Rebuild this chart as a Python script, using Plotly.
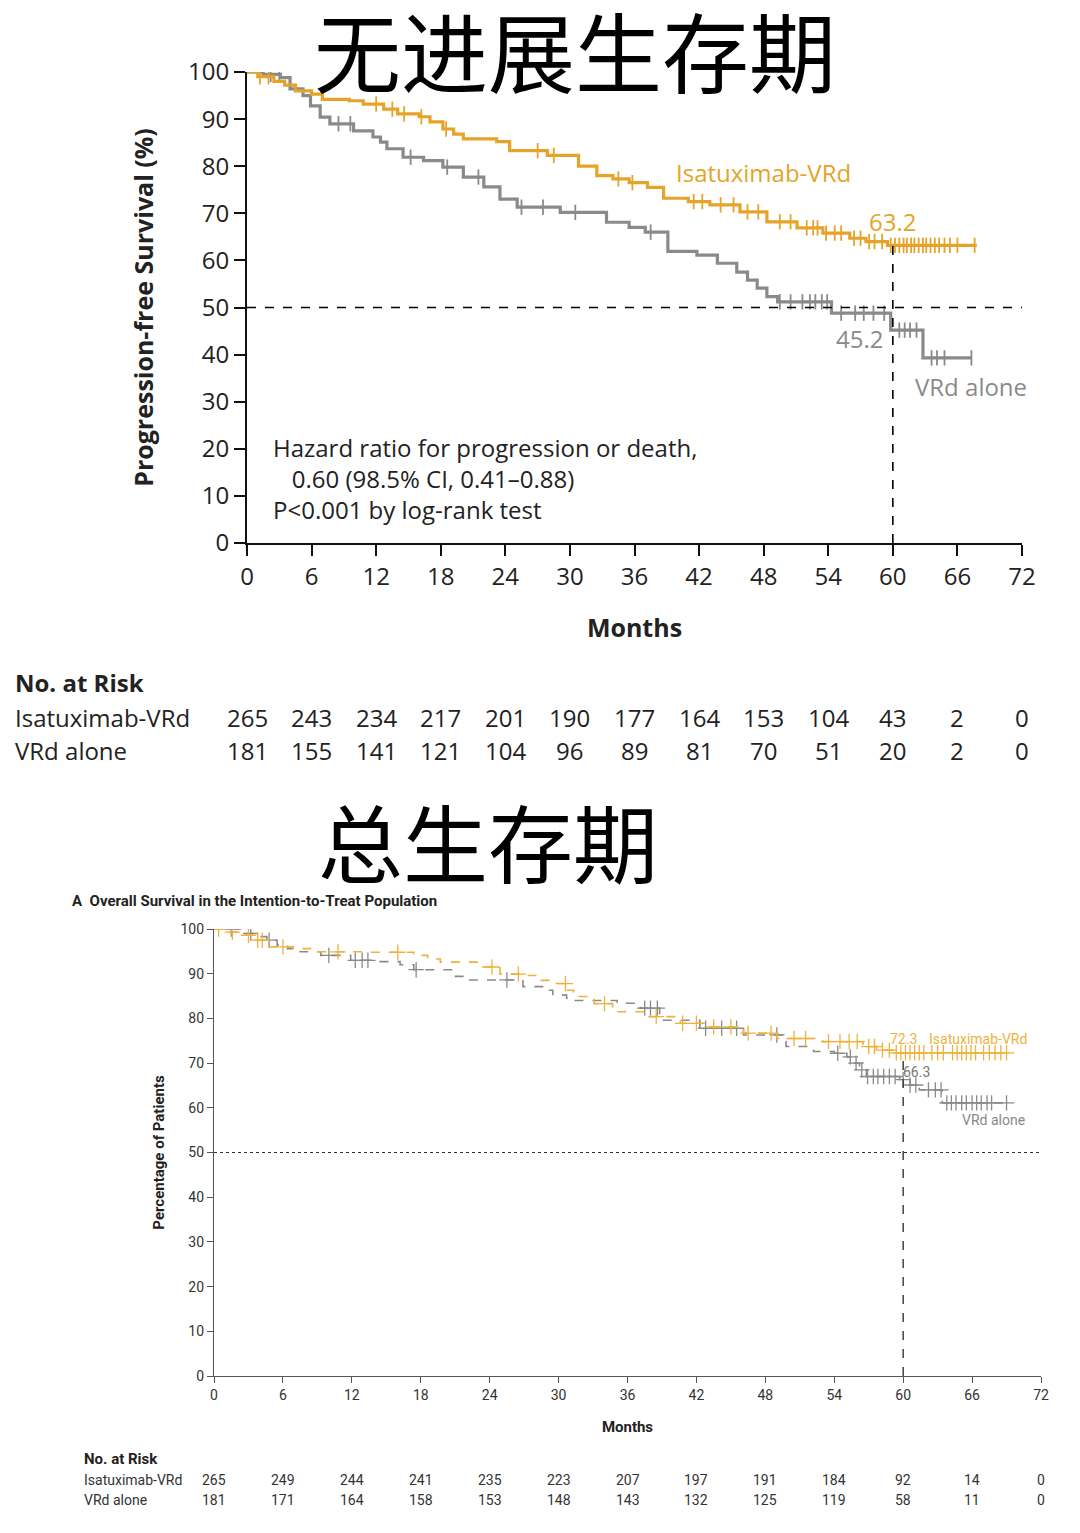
import numpy as np
import plotly.graph_objects as go

# ---------------- data ----------------
months = list(range(0, 73, 6))

# progression-free survival (step points: time, % event-free)
pfs_isa_t = [0, 1.0, 2.5, 3.5, 4.5, 6.0, 7.0, 9.5, 10.8, 12.7, 14.0, 16.0, 17.0, 18.2, 19.2, 20.1,
             23.2, 24.4, 27.9, 30.8, 32.5, 34.0, 35.5, 37.2, 38.7, 41.0, 43.0, 45.8, 48.3, 51.1,
             53.5, 56.0, 57.5, 59.5, 67.8]
pfs_isa_s = [100, 99.0, 98.0, 97.2, 96.0, 95.3, 94.2, 93.9, 93.2, 92.1, 91.1, 90.5, 89.4, 87.9, 86.8, 85.8,
             85.2, 83.3, 82.3, 80.0, 78.0, 77.3, 76.5, 75.5, 73.2, 72.5, 71.8, 70.3, 68.2, 66.9,
             65.8, 64.7, 64.0, 63.2, 63.2]
pfs_vrd_t = [0, 1.5, 3.1, 4.0, 5.2, 5.9, 6.8, 7.7, 9.9, 11.7, 12.4, 13.0, 14.5, 16.4, 18.2, 20.1, 22.0,
             23.5, 25.1, 29.1, 33.4, 35.5, 37.0, 39.1, 41.8, 43.7, 45.5, 46.5, 47.4, 48.3, 49.3,
             54.3, 59.8, 62.8, 67.3]
pfs_vrd_s = [100, 99.5, 98.8, 96.4, 95.0, 92.8, 90.4, 89.0, 87.5, 86.2, 85.1, 83.7, 81.9, 81.2, 79.8, 77.7, 75.6,
             73.0, 71.3, 70.2, 68.1, 67.0, 66.0, 61.9, 61.1, 59.4, 57.5, 55.8, 54.1, 52.3, 51.2,
             48.8, 45.2, 39.3, 39.3]
pfs_isa_cens = [1.2, 2.0, 12.0, 13.5, 14.6, 16.2, 18.5, 27.0, 28.5, 34.5, 35.8, 41.5, 42.3, 44.0, 45.2,
                46.5, 47.5, 49.5, 50.5, 52.0, 52.6, 53.0, 53.8, 54.6, 55.2, 56.4, 57.0, 57.8, 58.3,
                59.0, 59.8, 60.2, 60.6, 61.0, 61.3, 61.7, 62.0, 62.4, 62.8, 63.1, 63.5, 63.9, 64.3,
                64.8, 65.3, 66.0, 67.6]
pfs_vrd_cens = [2.2, 3.0, 8.5, 9.6, 15.2, 18.6, 21.5, 25.5, 27.5, 30.5, 37.5, 49.5, 50.5, 51.6, 52.3,
                52.8, 53.4, 53.9, 55.2, 56.5, 57.3, 58.2, 59.2, 60.6, 61.1, 61.6, 62.2, 63.6, 64.1,
                64.8, 67.3]
pfs_isa_label, pfs_vrd_label = "63.2", "45.2"
pfs_isa_risk = [265, 243, 234, 217, 201, 190, 177, 164, 153, 104, 43, 2, 0]
pfs_vrd_risk = [181, 155, 141, 121, 104, 96, 89, 81, 70, 51, 20, 2, 0]

# overall survival
os_isa_t = [0, 1.0, 2.3, 3.5, 4.6, 6.9, 8.4, 13.5, 17.4, 18.6, 19.7, 23.2, 24.9, 26.9, 28.4, 29.5,
            30.7, 31.3, 33.1, 34.7, 37.9, 40.6, 42.9, 46.1, 49.0, 53.0, 56.5, 57.7, 59.1, 69.0]
os_isa_s = [100, 99.3, 98.6, 97.5, 96.0, 95.6, 94.9, 94.8, 94.1, 93.3, 92.6, 91.5, 89.9, 89.6, 88.5, 87.8,
            86.3, 84.9, 83.3, 81.5, 80.4, 78.9, 78.1, 76.7, 75.5, 74.8, 73.7, 72.9, 72.3, 72.3]
os_vrd_t = [0, 2.6, 3.7, 4.6, 5.5, 6.4, 7.5, 9.3, 11.9, 13.9, 16.2, 17.4, 20.9, 22.0, 26.9, 28.7, 29.5,
            30.7, 31.3, 35.1, 37.1, 38.8, 42.3, 46.1, 49.8, 52.2, 54.0, 55.1, 55.6, 56.2, 56.8,
            59.7, 60.6, 61.4, 63.4, 69.0]
os_vrd_s = [100, 99.0, 98.3, 97.5, 96.4, 95.6, 94.9, 94.1, 93.0, 92.7, 92.0, 90.9, 89.4, 88.6, 87.1, 86.3, 85.2,
            84.5, 84.0, 83.4, 82.3, 79.6, 77.8, 76.3, 73.7, 72.6, 72.2, 71.4, 70.0, 68.5, 67.0,
            66.3, 65.1, 64.0, 61.1, 61.1]
os_isa_cens = [0.4, 1.6, 3.0, 3.8, 4.2, 6.0, 10.8, 16.0, 24.2, 26.5, 30.6, 34.0, 38.5, 40.8, 42.0,
               43.5, 45.0, 46.5, 48.5, 50.5, 51.5, 53.5, 54.5, 55.3, 56.0, 57.0, 57.5, 58.2, 58.8,
               59.4, 59.8, 60.2, 60.6, 61.0, 61.4, 61.8, 62.5, 63.0, 63.5, 64.3, 64.7, 65.1, 65.5,
               65.9, 66.3, 67.0, 67.5, 68.0, 68.5, 69.0]
os_vrd_cens = [1.5, 3.2, 4.8, 10.0, 12.3, 12.9, 13.4, 17.6, 25.5, 37.5, 38.0, 38.6, 42.8, 44.2, 45.5,
               49.0, 54.3, 55.4, 55.9, 56.4, 56.9, 57.4, 57.8, 58.3, 58.8, 59.3, 60.0, 60.6, 61.1,
               62.2, 62.8, 63.3, 63.8, 64.2, 64.6, 65.1, 65.5, 66.0, 66.4, 66.8, 67.3, 67.7, 69.0]
os_isa_label, os_vrd_label = "72.3", "66.3"
os_isa_risk = [265, 249, 244, 241, 235, 223, 207, 197, 191, 184, 92, 14, 0]
os_vrd_risk = [181, 171, 164, 158, 153, 148, 143, 132, 125, 119, 58, 11, 0]

ORANGE = "#E5A429"
ORANGE2 = "#EDB23D"
GRAY = "#8A8A8A"
FONT = "'Open Sans', Lato, sans-serif"
NARROW = "'Liberation Sans Narrow', 'Arial Narrow', 'Roboto', sans-serif"
PAD = 8                      # page body margin
W, H = 1080 - 2 * PAD, 1533 - 2 * PAD


def step_at(ts, ss, c):
    i = np.searchsorted(np.array(ts), c, side="right") - 1
    return ss[max(i, 0)]


def px_x(p):
    return (p - PAD) / W


def px_y(p):
    return 1 - (p - PAD) / H


fig = go.Figure()

# ---- PFS curves ----
for t, s, cens, col in [(pfs_vrd_t, pfs_vrd_s, pfs_vrd_cens, GRAY),
                        (pfs_isa_t, pfs_isa_s, pfs_isa_cens, ORANGE)]:
    fig.add_trace(go.Scatter(x=t, y=s, mode="lines", line=dict(color=col, width=3.2, shape="hv"),
                             xaxis="x", yaxis="y", showlegend=False, hoverinfo="skip"))
    fig.add_trace(go.Scatter(x=cens, y=[step_at(t, s, c) for c in cens], mode="markers",
                             marker=dict(symbol="line-ns", size=11, line=dict(color=col, width=1.8)),
                             xaxis="x", yaxis="y", showlegend=False, hoverinfo="skip"))

# ---- OS curves ----
for t, s, cens, col in [(os_vrd_t, os_vrd_s, os_vrd_cens, GRAY),
                        (os_isa_t, os_isa_s, os_isa_cens, ORANGE2)]:
    fig.add_trace(go.Scatter(x=t, y=s, mode="lines",
                             line=dict(color=col, width=1.6, shape="hv", dash="dash"),
                             xaxis="x2", yaxis="y2", showlegend=False, hoverinfo="skip"))
    fig.add_trace(go.Scatter(x=cens, y=[step_at(t, s, c) for c in cens], mode="markers",
                             marker=dict(symbol="cross-thin", size=11, line=dict(color=col, width=1.3)),
                             xaxis="x2", yaxis="y2", showlegend=False, hoverinfo="skip"))

# ---- reference lines ----
shapes = [
    dict(type="line", xref="x", yref="y", x0=0, x1=72, y0=50, y1=50,
         line=dict(color="black", width=1.6, dash="dash")),
    dict(type="line", xref="x", yref="y", x0=60, x1=60, y0=0, y1=float(pfs_isa_label),
         line=dict(color="black", width=1.6, dash="dash")),
    dict(type="line", xref="x2", yref="y2", x0=0, x1=72, y0=50, y1=50,
         line=dict(color="#333333", width=1.2, dash="dot")),
    dict(type="line", xref="x2", yref="y2", x0=60, x1=60, y0=0, y1=float(os_isa_label),
         line=dict(color="#333333", width=1.4, dash="dash")),
]


def note(text, x, y, xref="paper", yref="paper", xanchor="center", **font):
    return dict(text=text, x=x, y=y, xref=xref, yref=yref, xanchor=xanchor, yanchor="middle",
                showarrow=False, align="left", font=font)


ann = []
# titles
ann.append(note("无进展生存期", px_x(575), px_y(49), family="'Noto Sans CJK SC'", size=87, color="black"))
ann.append(note("总生存期", px_x(488), px_y(839), family="'Noto Sans CJK SC'", size=85, color="black"))

# PFS labels
big = dict(family=FONT, size=24)
dark = "#222222"
ann += [
    note("Isatuximab-VRd", 48, 78.7, "x", "y", **big, color=ORANGE),
    note(pfs_isa_label, 60, 68.2, "x", "y", **big, color=ORANGE),
    note(pfs_vrd_label, 56.9, 43.5, "x", "y", **big, color=GRAY),
    note("VRd alone", 67.3, 33.2, "x", "y", **big, color=GRAY),
    note("Hazard ratio for progression or death,<br>   0.60 (98.5% CI, 0.41–0.88)<br>P<0.001 by log-rank test",
         2.2, 13.7, "x", "y", xanchor="left", **big, color=dark),
    note("<b>No. at Risk</b>", px_x(13), px_y(682), xanchor="left", **big, color=dark),
    note("Isatuximab-VRd", px_x(13), px_y(717), xanchor="left", **big, color=dark),
    note("VRd alone", px_x(13), px_y(750), xanchor="left", **big, color=dark),
]
for m, a, b in zip(months, pfs_isa_risk, pfs_vrd_risk):
    ann.append(note(str(a), m, px_y(717), "x", "paper", **big, color=dark))
    ann.append(note(str(b), m, px_y(750), "x", "paper", **big, color=dark))

# OS labels
small = dict(family=NARROW, size=14)
mid = "#333333"
ann += [
    note("<b>A  Overall Survival in the Intention-to-Treat Population</b>", px_x(70), px_y(901),
         xanchor="left", family=NARROW, size=15, color=dark),
    note(os_isa_label, 60, 75.5, "x2", "y2", **small, color=ORANGE2),
    note("Isatuximab-VRd", 66.55, 75.5, "x2", "y2", **small, color=ORANGE2),
    note(os_vrd_label, 61.2, 68.0, "x2", "y2", **small, color="#777777"),
    note("VRd alone", 67.85, 57.2, "x2", "y2", **small, color="#888888"),
    note("<b>No. at Risk</b>", px_x(82), px_y(1459), xanchor="left", family=NARROW, size=15, color=dark),
    note("Isatuximab-VRd", px_x(82), px_y(1480), xanchor="left", **small, color=mid),
    note("VRd alone", px_x(82), px_y(1500), xanchor="left", **small, color=mid),
]
for m, a, b in zip(months, os_isa_risk, os_vrd_risk):
    ann.append(note(str(a), m, px_y(1480), "x2", "paper", **small, color=mid))
    ann.append(note(str(b), m, px_y(1500), "x2", "paper", **small, color=mid))

top_axis = dict(showgrid=False, zeroline=False, showline=True, linecolor="#111111", linewidth=2,
                ticks="outside", ticklen=11, tickwidth=2, tickcolor="#111111", automargin=False,
                tickfont=dict(family=FONT, size=24, color=dark))
bot_axis = dict(showgrid=False, zeroline=False, showline=True, linecolor="#555555", linewidth=1.2,
                ticks="outside", ticklen=6, tickwidth=1.2, tickcolor="#555555", automargin=False,
                tickfont=dict(family=NARROW, size=14, color=mid))

fig.update_layout(
    width=W, height=H, margin=dict(l=0, r=0, t=0, b=0, autoexpand=False),
    paper_bgcolor="white", plot_bgcolor="white",
    xaxis=dict(top_axis, domain=[px_x(247), px_x(1022)], range=[0, 72], tickvals=months,
               anchor="y", title=dict(text="<b>Months</b>", font=dict(family=FONT, size=25, color=dark),
                                      standoff=29)),
    yaxis=dict(top_axis, domain=[px_y(543), px_y(72)], range=[0, 100], dtick=10, anchor="x",
               title=dict(text="<b>Progression-free Survival (%)</b>",
                          font=dict(family=FONT, size=25, color=dark), standoff=27)),
    xaxis2=dict(bot_axis, domain=[px_x(214), px_x(1041)], range=[0, 72], tickvals=months,
                anchor="y2", title=dict(text="<b>Months</b>", font=dict(family=NARROW, size=15, color=dark),
                                        standoff=19)),
    yaxis2=dict(bot_axis, domain=[px_y(1376), px_y(929)], range=[0, 100], dtick=10, anchor="x2",
                title=dict(text="<b>Percentage of Patients</b>",
                           font=dict(family=NARROW, size=15, color=dark), standoff=12)),
    shapes=shapes, annotations=ann,
)

fig.write_html("out.html")
